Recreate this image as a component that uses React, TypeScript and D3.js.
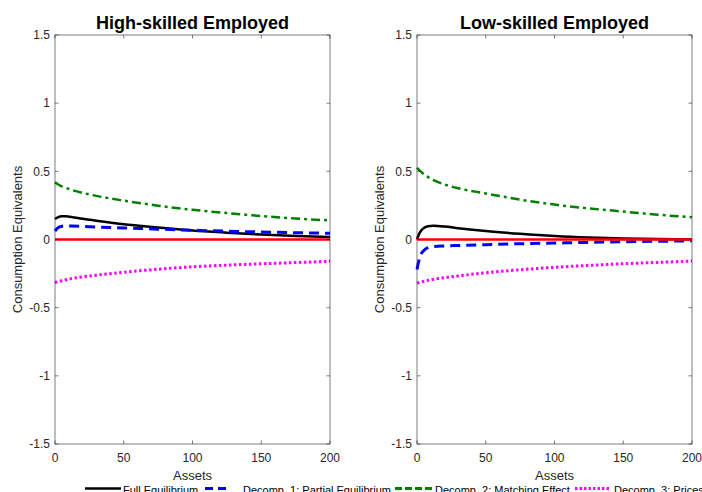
import React from "react";
import * as d3 from "d3";

const assets = [0, 2, 5, 8, 12, 20, 30, 50, 75, 100, 125, 150, 175, 200];
const xTicks = [0, 50, 100, 150, 200];
const yTicks = [-1.5, -1, -0.5, 0, 0.5, 1, 1.5];

// High-skilled employed
const highFull = [0.15, 0.162, 0.17, 0.17, 0.165, 0.152, 0.138, 0.112, 0.088, 0.066, 0.05, 0.036, 0.025, 0.018];
const highPartial = [0.062, 0.085, 0.098, 0.1, 0.099, 0.096, 0.092, 0.085, 0.076, 0.068, 0.061, 0.055, 0.05, 0.046];
const highMatching = [0.42, 0.405, 0.39, 0.378, 0.364, 0.342, 0.32, 0.285, 0.248, 0.218, 0.194, 0.172, 0.154, 0.14];
const highPrices = [-0.315, -0.31, -0.302, -0.295, -0.287, -0.274, -0.262, -0.24, -0.218, -0.2, -0.188, -0.178, -0.169, -0.16];

// Low-skilled employed
const lowFull = [0.0, 0.05, 0.085, 0.097, 0.1, 0.095, 0.083, 0.062, 0.042, 0.026, 0.015, 0.008, 0.003, 0.0];
const lowPartial = [-0.22, -0.13, -0.08, -0.06, -0.052, -0.047, -0.044, -0.038, -0.031, -0.026, -0.021, -0.017, -0.013, -0.01];
const lowMatching = [0.525, 0.505, 0.48, 0.458, 0.435, 0.404, 0.376, 0.338, 0.292, 0.256, 0.228, 0.205, 0.182, 0.163];
const lowPrices = [-0.32, -0.315, -0.307, -0.3, -0.292, -0.28, -0.267, -0.244, -0.222, -0.204, -0.19, -0.178, -0.168, -0.158];

const zeroLine = [0, 0, 0, 0, 0, 0, 0, 0, 0, 0, 0, 0, 0, 0];

const seriesNames = [
  "Full Equilibrium",
  "Decomp. 1: Partial Equilibrium",
  "Decomp. 2: Matching Effect",
  "Decomp. 3: Prices",
];

const styles = [
  { color: "#000000", width: 2.5, dash: "" },
  { color: "#0000ff", width: 3, dash: "10,6" },
  { color: "#008000", width: 2.5, dash: "9,4,3,4" },
  { color: "#ff00ff", width: 3, dash: "2.5,2.5" },
];

// legend pieces: line start, line end, text start, dash pattern
const legendLine = [
  [85, 121, 123, ""],
  [205, 227, 243, "8,5"],
  [395, 432, 435, "7,3"],
  [575, 611, 614, "2.5,2"],
];

const font = "Liberation Sans, Arial, Helvetica, sans-serif";

const Panel = ({ left, title, series }) => {
  const right = left + 275;
  const top = 35;
  const bottom = 444;
  const x = d3.scaleLinear().domain([0, 200]).range([left, right]);
  const y = d3.scaleLinear().domain([-1.5, 1.5]).range([bottom, top]);
  const line = d3
    .line()
    .x((d, i) => x(assets[i]))
    .y((d) => y(d))
    .curve(d3.curveMonotoneX);

  return (
    <g>
      {series.map((s, k) => (
        <path
          key={k}
          d={line(s)}
          fill="none"
          stroke={styles[k].color}
          strokeWidth={styles[k].width}
          strokeDasharray={styles[k].dash}
        />
      ))}
      <path d={line(zeroLine)} fill="none" stroke="#ff0000" strokeWidth={2.4} />
      <rect x={left} y={top} width={right - left} height={bottom - top} fill="none" stroke="#262626" strokeWidth={0.6} />
      {xTicks.map((t) => (
        <g key={"x" + t}>
          <line x1={x(t)} x2={x(t)} y1={bottom} y2={bottom - 3.5} stroke="#262626" strokeWidth={0.6} />
          <line x1={x(t)} x2={x(t)} y1={top} y2={top + 3.5} stroke="#262626" strokeWidth={0.6} />
          <text x={x(t)} y={bottom + 17.5} textAnchor="middle" fontSize={12} fill="#262626" fontFamily={font}>
            {t}
          </text>
        </g>
      ))}
      {yTicks.map((t) => (
        <g key={"y" + t}>
          <line x1={left} x2={left + 3.5} y1={y(t)} y2={y(t)} stroke="#262626" strokeWidth={0.6} />
          <line x1={right} x2={right - 3.5} y1={y(t)} y2={y(t)} stroke="#262626" strokeWidth={0.6} />
          <text x={left - 5} y={y(t) + 4.3} textAnchor="end" fontSize={12} fill="#262626" fontFamily={font}>
            {t}
          </text>
        </g>
      ))}
      <text x={(left + right) / 2} y={29} textAnchor="middle" fontSize={18} fontWeight="bold" fill="#000" fontFamily={font}>
        {title}
      </text>
      <text x={(left + right) / 2} y={479.5} textAnchor="middle" fontSize={13} fill="#262626" fontFamily={font}>
        Assets
      </text>
      <text
        transform={`translate(${left - 33},${(top + bottom) / 2}) rotate(-90)`}
        textAnchor="middle"
        fontSize={13}
        fill="#262626"
        fontFamily={font}
      >
        Consumption Equivalents
      </text>
    </g>
  );
};

const App = () => {
  return (
    <svg width={702} height={492} style={{ position: "absolute", left: 0, top: 0, background: "#fff" }}>
      <rect width={702} height={492} fill="#fff" />
      <Panel left={55} title="High-skilled Employed" series={[highFull, highPartial, highMatching, highPrices]} />
      <Panel left={417} title="Low-skilled Employed" series={[lowFull, lowPartial, lowMatching, lowPrices]} />
      {seriesNames.map((name, k) => (
        <g key={name}>
          <line
            x1={legendLine[k][0]}
            x2={legendLine[k][1]}
            y1={488.5}
            y2={488.5}
            stroke={styles[k].color}
            strokeWidth={k === 0 ? 2.5 : 3}
            strokeDasharray={legendLine[k][3]}
          />
          <text x={legendLine[k][2]} y={493.5} fontSize={11} fill="#000" fontFamily={font}>
            {name}
          </text>
        </g>
      ))}
    </svg>
  );
};

export default App;
